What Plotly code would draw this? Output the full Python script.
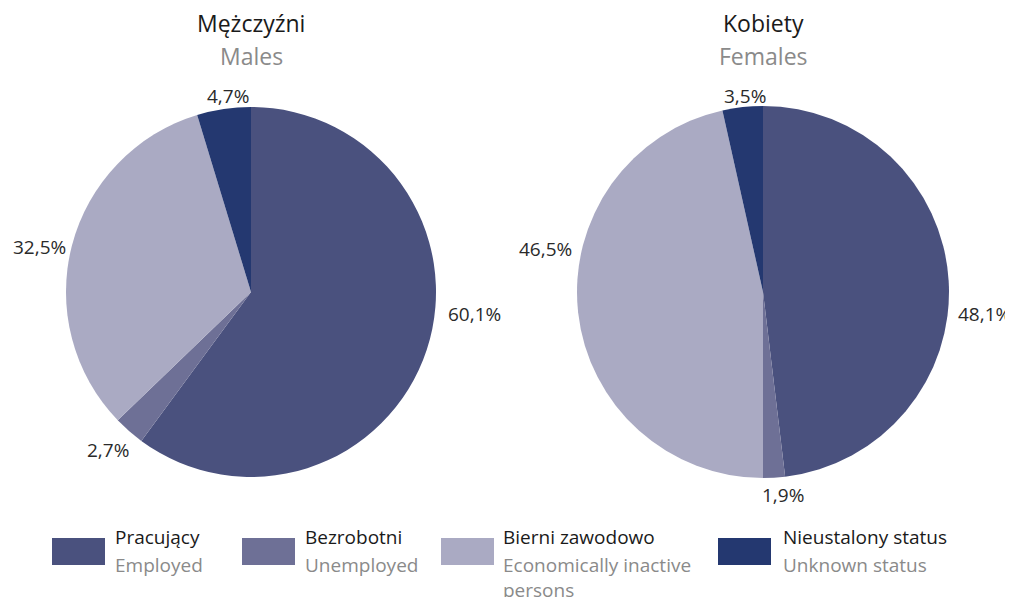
import plotly.graph_objects as go

categories_pl = ["Pracujący", "Bezrobotni", "Bierni zawodowo", "Nieustalony status"]
categories_en = ["Employed", "Unemployed", "Economically inactive<br>persons", "Unknown status"]
males = [60.1, 2.7, 32.5, 4.7]
females = [48.1, 1.9, 46.5, 3.5]
colors = ["#4a517e", "#6e7096", "#aaaac3", "#243870"]

# page offset of the body (8px) -> shrink figure so it fits the window
OFF = 8
W, H = 1013 - OFF, 597 - OFF
FONT = "Open Sans"


def px(x):
    return (x - OFF) / W


def py(y):
    return 1 - (y - OFF) / H


fig = go.Figure()


def add_pie(vals, cx, cy, r, name):
    fig.add_trace(go.Pie(
        values=vals, labels=categories_pl, name=name,
        sort=False, direction="clockwise", rotation=0,
        marker=dict(colors=colors, line=dict(width=0)),
        textinfo="none",
        hoverinfo="label+value", showlegend=False, automargin=False,
        domain=dict(x=[px(cx - r), px(cx + r)], y=[py(cy + r), py(cy - r)]),
    ))


add_pie(males, 251, 292, 185, "Mężczyźni")
add_pie(females, 763, 292, 186, "Kobiety")

ann = []

# percentage labels (positions are layout, values come from data)
label_pos_m = [(474, 314), (108, 450), (39, 247), (228, 96)]
label_pos_f = [(984, 314), (783, 495), (545, 249), (745, 96)]
for vals, poss in [(males, label_pos_m), (females, label_pos_f)]:
    for v, (x, y) in zip(vals, poss):
        ann.append(dict(x=px(x), y=py(y), text=f"{v:.1f}%".replace(".", ","), showarrow=False,
                        xref="paper", yref="paper", xanchor="center", yanchor="middle",
                        font=dict(size=19, color="#2a2a2a", family=FONT)))

for cx, t1, t2 in [(251, "Mężczyźni", "Males"), (763, "Kobiety", "Females")]:
    ann.append(dict(x=px(cx), y=py(23), text=t1, showarrow=False, xref="paper", yref="paper",
                    font=dict(size=23, color="#1a1a1a", family=FONT), xanchor="center", yanchor="middle"))
    ann.append(dict(x=px(cx), y=py(56), text=t2, showarrow=False, xref="paper", yref="paper",
                    font=dict(size=23, color="#8a8a8a", family=FONT), xanchor="center", yanchor="middle"))

shapes = []
sw_x = [52, 242, 441, 718]
tx_x = [115, 305, 503, 783]
for i in range(4):
    shapes.append(dict(type="rect", xref="paper", yref="paper",
                       x0=px(sw_x[i]), x1=px(sw_x[i] + 53), y0=py(565), y1=py(538),
                       fillcolor=colors[i], line=dict(width=0)))
    ann.append(dict(x=px(tx_x[i] - 2), y=py(537), text=categories_pl[i], showarrow=False,
                    xref="paper", yref="paper", xanchor="left", yanchor="middle",
                    font=dict(size=19, color="#1a1a1a", family=FONT)))
    ann.append(dict(x=px(tx_x[i] - 2), y=py(550), text=categories_en[i], showarrow=False,
                    xref="paper", yref="paper", xanchor="left", yanchor="top", align="left",
                    font=dict(size=19, color="#8a8a8a", family=FONT)))

fig.update_layout(
    width=W, height=H, margin=dict(l=0, r=0, t=0, b=0, autoexpand=False),
    paper_bgcolor="white", plot_bgcolor="white",
    separators=",.", annotations=ann, shapes=shapes,
    font=dict(family=FONT),
)
fig.write_html("out.html")
